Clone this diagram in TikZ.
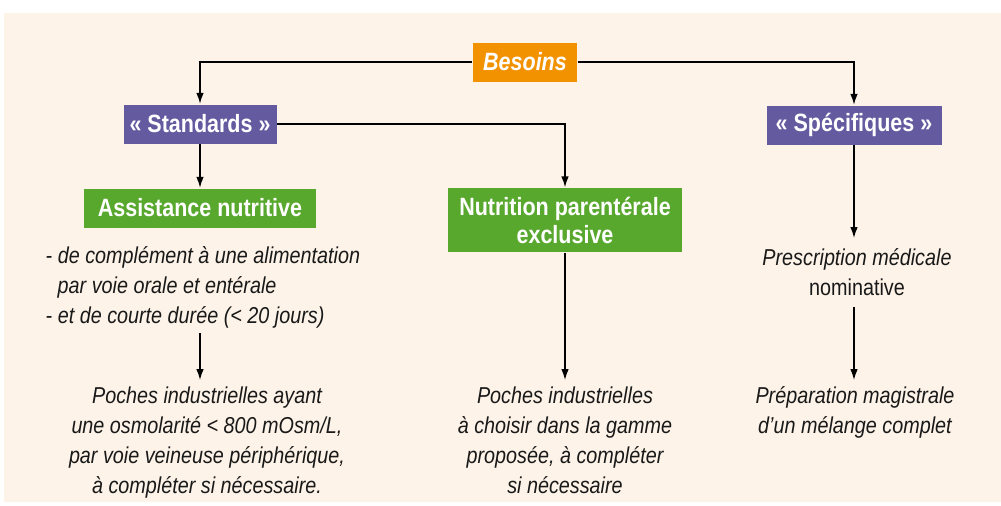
\documentclass[tikz,border=0pt]{standalone}
\usepackage{fontspec}
\setmainfont{Liberation Sans}[FakeStretch=0.86]
\usepackage{tikz}
\usetikzlibrary{arrows.meta}
\definecolor{fondpeche}{HTML}{FDF3E8}
\definecolor{orangeb}{HTML}{F39200}
\definecolor{violets}{HTML}{645A9F}
\definecolor{vertn}{HTML}{58A82E}

\begin{document}
\begin{tikzpicture}[x=0.5pt, y=-0.5pt, line width=0.7pt, >={Latex[length=5.5pt,width=3.8pt]},
  box/.style={fill=#1, text=white, font=\fontsize{12.5}{14}\selectfont\bfseries, minimum height=19.5pt, inner sep=2pt, align=center},
  txt/.style={font=\fontsize{11.5}{15}\selectfont\itshape, inner sep=0pt, align=center, text=black!90}]
          \fill[fondpeche] (4,13) rectangle (1001,502);
          \useasboundingbox (0,0) rectangle (1001,505);
          \node[box=orangeb, minimum width=52pt] (B) at (525,62) {\itshape Besoins};
          \node[box=violets, minimum width=76.5pt] (St) at (200,124) {« Standards »};
          \node[box=violets, minimum width=87.5pt] (Sp) at (854,125) {« Spécifiques »};
          \node[box=vertn, minimum width=116pt] (As) at (200,208) {Assistance nutritive};
          \node[box=vertn, minimum width=117pt, minimum height=32pt] (Np) at (565,220) {Nutrition parentérale\\exclusive};
          \node[txt, align=left, anchor=north west] (Cp) at (45,246) {- de complément à une alimentation\\\hspace*{6pt}par voie orale et entérale\\- et de courte durée (< 20 jours)};
          \node[txt, anchor=north] (T1) at (207,386) {Poches industrielles ayant\\une osmolarité < 800 mOsm/L,\\par voie veineuse périphérique,\\à compléter si nécessaire.};
          \node[txt, anchor=north] (T2) at (565,386) {Poches industrielles\\à choisir dans la gamme\\proposée, à compléter\\si nécessaire};
          \node[txt, anchor=north] (Pr) at (857,248) {Prescription médicale\\\upshape nominative};
          \node[txt, anchor=north] (Pm) at (855,386) {Préparation magistrale\\d'un mélange complet};
          \draw [->] (B.west) -| (St.north);
          \draw [->] (B.east) -| (Sp.north);
          \draw [->] (St.east) -| (Np.north);
          \draw [->] (St) -- (As);
          \draw [->, shorten >=5pt] (Sp.south) -- (Sp.south |- Pr.north);
          \draw [->, shorten <=5pt, shorten >=3pt] (Sp.south |- Pr.south) -- (Sp.south |- Pm.north);
          \draw [->, shorten >=3pt] (Np) -- (T2);
          \draw [->, shorten <=2pt, shorten >=3pt] (St.south |- Cp.south) -- (St.south |- T1.north);
        \end{tikzpicture}
\end{document}
